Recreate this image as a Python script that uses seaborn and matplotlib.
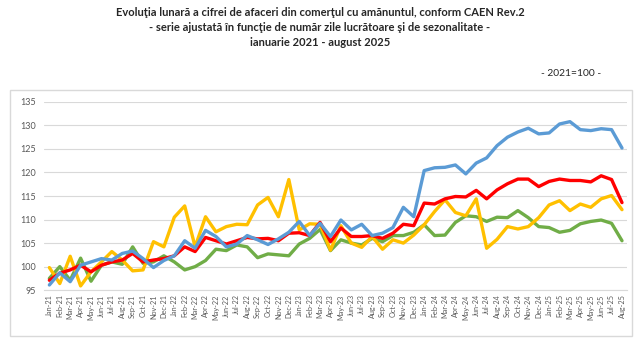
import pandas as pd
import matplotlib.pyplot as plt
import seaborn as sns
from matplotlib.patches import Rectangle

# monthly labels Jan-21 .. Aug-25
months = pd.date_range('2021-01-01', '2025-08-01', freq='MS').strftime('%b-%y').tolist()

blue = [96.1, 98.7, 96.8, 100.3, 101.0, 101.7, 101.4, 102.8, 103.3, 101.7, 99.8, 101.3,
        102.3, 105.5, 103.9, 107.7, 106.4, 104.2, 104.8, 106.6, 105.7, 104.7, 105.9, 107.3,
        109.6, 106.6, 109.2, 106.4, 109.9, 107.8, 109.0, 106.6, 107.1, 108.3, 112.6, 110.6,
        120.4, 121.0, 121.1, 121.6, 119.7, 122.0, 123.1, 125.7, 127.5, 128.6, 129.4, 128.2,
        128.4, 130.3, 130.8, 129.1, 128.9, 129.3, 129.1, 125.2]
red = [97.1, 98.6, 99.3, 100.3, 98.9, 100.3, 101.0, 101.4, 102.8, 101.0, 101.4, 101.7,
       102.3, 104.2, 103.2, 106.2, 105.5, 104.8, 105.5, 106.2, 105.9, 106.0, 105.5, 107.1,
       107.2, 106.6, 109.4, 105.3, 108.2, 106.4, 106.4, 106.6, 106.0, 107.1, 109.0, 108.7,
       113.5, 113.3, 114.4, 114.9, 114.8, 116.2, 114.4, 116.3, 117.6, 118.6, 118.6, 117.0,
       118.1, 118.6, 118.3, 118.3, 118.0, 119.3, 118.5, 113.6]
yellow = [99.8, 96.4, 102.2, 95.9, 98.9, 101.0, 103.2, 101.4, 99.1, 99.3, 105.3, 104.2,
          110.5, 112.9, 104.2, 110.6, 107.4, 108.5, 109.0, 108.9, 113.1, 114.7, 110.6, 118.5,
          107.8, 109.1, 109.0, 103.5, 108.7, 105.0, 104.1, 106.4, 103.7, 105.7, 105.0, 106.7,
          108.9, 111.7, 114.2, 111.5, 110.8, 114.4, 103.9, 105.8, 108.5, 108.0, 108.5, 110.4,
          113.1, 114.0, 111.9, 113.3, 112.6, 114.4, 115.1, 112.1]
green = [97.5, 100.0, 97.1, 101.8, 96.9, 100.3, 101.0, 100.5, 104.2, 100.7, 101.0, 102.3,
         101.0, 99.3, 100.0, 101.3, 103.7, 103.4, 104.6, 104.2, 101.9, 102.7, 102.5, 102.3,
         104.8, 106.0, 107.9, 103.4, 105.7, 105.0, 104.6, 106.0, 105.3, 106.6, 106.6, 107.3,
         108.9, 106.6, 106.7, 109.4, 110.8, 110.6, 109.6, 110.5, 110.4, 111.9, 110.4, 108.5,
         108.3, 107.3, 107.7, 109.1, 109.6, 109.9, 109.2, 105.5]

colors = {'blue': '#5B9BD5', 'red': '#FF0000', 'yellow': '#FFC000', 'green': '#70AD47'}

df = pd.DataFrame({'month': months, 'blue': blue, 'red': red, 'yellow': yellow, 'green': green})
df['idx'] = range(len(df))
long = df.melt(id_vars=['month', 'idx'], var_name='serie', value_name='value')

sns.set_style('white')
plt.rcParams['font.family'] = ['Lato', 'DejaVu Sans']

fig = plt.figure(figsize=(6.4, 3.6), dpi=100)
ax = fig.add_axes([0.069, 0.194, 0.911, 0.523])

sns.lineplot(data=long, x='idx', y='value', hue='serie', hue_order=['green', 'yellow', 'red', 'blue'],
             palette=colors, linewidth=2.4, legend=False, ax=ax)

ax.set_xlim(-0.5, len(months) - 0.5)
ax.set_ylim(95, 135)
ax.set_yticks(range(95, 136, 5))
ax.set_xticks(range(len(months)))
ax.set_xticklabels(months, rotation=90, fontsize=5.2, color='#595959')
ax.tick_params(axis='y', labelsize=6.5, colors='#595959', length=0, pad=6)
ax.tick_params(axis='x', length=0, pad=3)
ax.yaxis.grid(True, color='#D9D9D9', linewidth=0.8)
ax.set_axisbelow(True)
for s in ['top', 'right', 'left']:
    ax.spines[s].set_visible(False)
ax.spines['bottom'].set_color('#D9D9D9')
ax.set_xlabel('')
ax.set_ylabel('')

# chart border
fig.patches.append(Rectangle((0.0156, 0.0667), 0.972, 0.683, transform=fig.transFigure,
                             fill=False, edgecolor='#D9D9D9', linewidth=1.0))

fig.text(0.5, 0.98, 'Evoluţia lunară a cifrei de afaceri din comerţul cu amănuntul, conform CAEN Rev.2',
         ha='center', va='top', fontsize=8.0, fontweight='bold')
fig.text(0.5, 0.938, '- serie ajustată în funcţie de număr zile lucrătoare şi de sezonalitate -',
         ha='center', va='top', fontsize=8.0, fontweight='bold')
fig.text(0.5, 0.896, 'ianuarie 2021 - august 2025',
         ha='center', va='top', fontsize=8.0, fontweight='bold')
fig.text(0.94, 0.797, '- 2021=100 -', ha='right', va='center', fontsize=7.4)

plt.savefig('out.png', dpi=100)
